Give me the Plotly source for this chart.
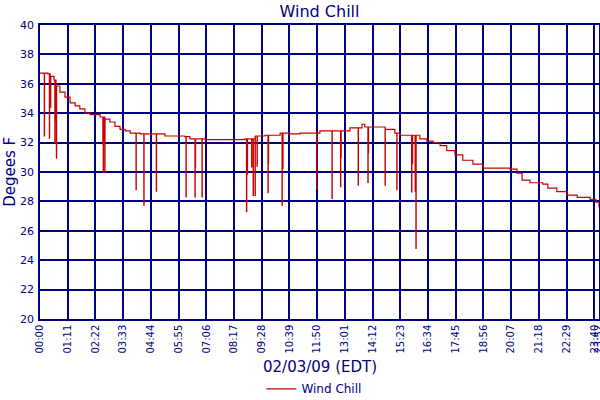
import plotly.graph_objects as go

# minutes after midnight and wind chill (F) along the main trace
base_min = [0, 20, 26, 36, 41, 51, 64, 77, 90, 102, 115, 128, 154, 166, 179, 192,
            205, 218, 231, 256, 307, 320, 371, 384, 423, 525, 551, 576, 615, 640,
            666, 717, 794, 825, 832, 858, 884, 909, 922, 953, 973, 991, 1007, 1025,
            1042, 1063, 1083, 1109, 1135, 1186, 1204, 1222, 1235, 1255, 1288, 1301,
            1324, 1350, 1376, 1409, 1424, 1432]
base_val = [36.73, 36.67, 36.5, 36.26, 35.85, 35.44, 35.1, 34.7, 34.5, 34.3, 34.0,
            33.9, 33.74, 33.6, 33.4, 33.1, 32.9, 32.8, 32.65, 32.6, 32.6, 32.45,
            32.4, 32.25, 32.2, 32.25, 32.45, 32.5, 32.65, 32.6, 32.65, 32.8, 33.0,
            33.25, 33.06, 33.06, 32.9, 32.65, 32.5, 32.5, 32.25, 32.1, 32.0, 31.8,
            31.45, 31.16, 30.8, 30.54, 30.27, 30.27, 30.2, 29.93, 29.45, 29.27,
            29.18, 28.9, 28.66, 28.43, 28.28, 28.14, 27.95, 27.6]

# single low readings (dropouts)
spike_min = [11, 24, 27, 38, 40, 42, 161, 162, 164, 166, 246, 266, 298, 374, 397,
             398, 415, 529, 531, 542, 546, 551, 556, 584, 585, 620, 622, 709, 748,
             770, 771, 815, 840, 841, 884, 914, 952, 954, 961, 963]
spike_val = [32.45, 32.3, 34.4, 32.0, 33.5, 30.95, 31.9, 30.0, 31.9, 30.0, 28.8,
             27.75, 28.7, 28.3, 28.3, 30.3, 28.3, 27.3, 29.85, 30.35, 28.4, 28.4,
             30.4, 28.6, 30.6, 27.75, 30.25, 28.85, 28.2, 29.0, 31.0, 29.1, 29.3,
             31.3, 29.1, 28.8, 28.65, 30.6, 28.7, 24.8]

tick_min = list(range(0, 1421, 71)) + [1432]
tick_txt = ["%02d:%02d" % (m // 60, m % 60) for m in tick_min]

NAVY = "#000080"


def current_base(t):
    v = base_val[0]
    for m, b in zip(base_min, base_val):
        if m <= t:
            v = b
    return v


# merge dropouts into the step series
pts = [(m, v) for m, v in zip(base_min, base_val)]
for m, v in zip(spike_min, spike_val):
    pts.append((m, v))
    pts.append((m + 0.6, current_base(m)))
pts.sort(key=lambda p: p[0])
xs = [p[0] for p in pts]
ys = [p[1] for p in pts]

fig = go.Figure()
fig.add_trace(go.Scatter(x=xs, y=ys, mode="lines", line_shape="hv",
                         line=dict(color="#cc0000", width=1.2), name="Wind Chill"))

fig.update_layout(
    width=600, height=400,
    margin=dict(l=40, r=1, t=25, b=81),
    paper_bgcolor="white", plot_bgcolor="white",
    font=dict(family="DejaVu Sans", color=NAVY, size=11),
    title=dict(text="Wind Chill", xref="paper", x=0.5, xanchor="center", y=0.972,
               yanchor="middle", font=dict(size=16, color=NAVY)),
    showlegend=True,
    legend=dict(orientation="h", xref="paper", x=0.49, xanchor="center",
                yref="container", y=0.028, yanchor="middle",
                font=dict(size=12, color=NAVY)),
    xaxis=dict(range=[0, 1432], tickvals=tick_min, ticktext=tick_txt, tickangle=-90,
               showgrid=True, gridcolor=NAVY, gridwidth=1.5, zeroline=False,
               showline=True, linecolor=NAVY, linewidth=1.5, mirror=True,
               tickfont=dict(size=10, color=NAVY), ticks="", automargin=False,
               ticklabeloverflow="allow"),
    yaxis=dict(range=[20, 40], dtick=2, showgrid=True, gridcolor=NAVY, gridwidth=1.5,
               zeroline=False, showline=True, linecolor=NAVY, linewidth=1.5,
               mirror=True, tickfont=dict(size=11, color=NAVY), ticks="",
               automargin=False, ticklabelstandoff=2),
    annotations=[
        dict(text="02/03/09 (EDT)", xref="paper", yref="paper", x=0.5, y=-0.163,
             xanchor="center", yanchor="middle", showarrow=False,
             font=dict(size=15, color=NAVY)),
        dict(text="Degees F", xref="paper", yref="paper", x=-0.054, y=0.5,
             xanchor="center", yanchor="middle", textangle=-90, showarrow=False,
             font=dict(size=15, color=NAVY)),
    ],
)

# page body has a default margin; drop it so the chart sits at the window corner
fig.write_html("out.html", config={"displayModeBar": False},
               post_script="document.body.style.margin='0';")
